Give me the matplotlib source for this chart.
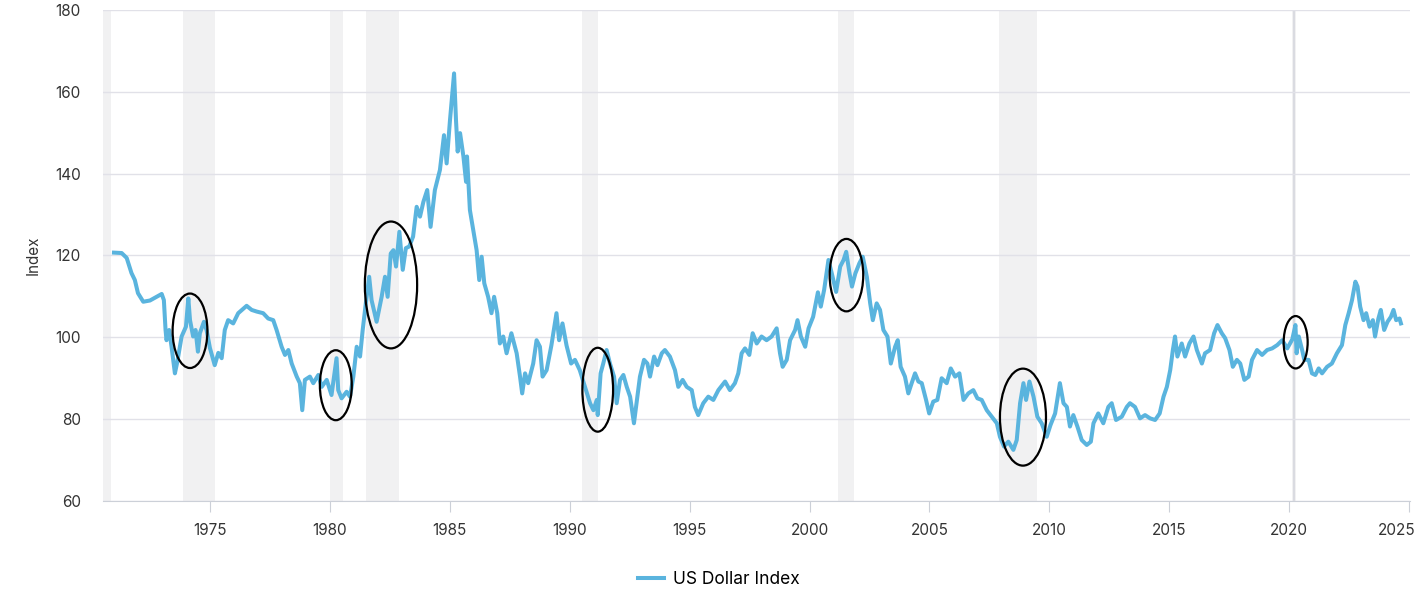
import matplotlib.pyplot as plt
from matplotlib.patches import Ellipse
from matplotlib.transforms import ScaledTranslation

plt.rcParams['font.family'] = ['Inter', 'DejaVu Sans']

# US Dollar Index (decimal year, index value)
years = [
    1971.00, 1971.32, 1971.53, 1971.73, 1971.87, 1972.00, 1972.22, 1972.50, 1972.78, 1972.99,
    1973.08, 1973.15, 1973.19, 1973.30, 1973.40, 1973.54, 1973.64, 1973.82, 1974.00, 1974.10,
    1974.17, 1974.30, 1974.40, 1974.50, 1974.58, 1974.75, 1974.86, 1975.00, 1975.20, 1975.35,
    1975.49, 1975.62, 1975.76, 1975.97, 1976.18, 1976.53, 1976.74, 1976.95, 1977.22, 1977.43,
    1977.64, 1977.78, 1977.99, 1978.13, 1978.27, 1978.41, 1978.62, 1978.75, 1978.85, 1978.96,
    1979.17, 1979.31, 1979.52, 1979.66, 1979.87, 1980.07, 1980.28, 1980.35, 1980.49, 1980.70,
    1980.84, 1980.98, 1981.12, 1981.26, 1981.37, 1981.50, 1981.64, 1981.74, 1981.95, 1982.16,
    1982.30, 1982.41, 1982.54, 1982.65, 1982.76, 1982.90, 1983.04, 1983.17, 1983.31, 1983.47,
    1983.62, 1983.76, 1983.90, 1984.06, 1984.20, 1984.38, 1984.59, 1984.76, 1984.87, 1985.01,
    1985.18, 1985.26, 1985.33, 1985.43, 1985.57, 1985.68, 1985.72, 1985.84, 1985.98, 1986.12,
    1986.23, 1986.33, 1986.44, 1986.60, 1986.74, 1986.85, 1986.98, 1987.09, 1987.23, 1987.37,
    1987.57, 1987.79, 1987.93, 1988.02, 1988.14, 1988.27, 1988.48, 1988.62, 1988.76, 1988.87,
    1989.04, 1989.24, 1989.45, 1989.56, 1989.70, 1989.87, 1990.06, 1990.22, 1990.42, 1990.64,
    1990.85, 1990.99, 1991.13, 1991.17, 1991.29, 1991.40, 1991.54, 1991.68, 1991.85, 1991.96,
    1992.10, 1992.24, 1992.38, 1992.52, 1992.68, 1992.82, 1992.93, 1993.10, 1993.24, 1993.35,
    1993.52, 1993.66, 1993.84, 1993.97, 1994.18, 1994.39, 1994.53, 1994.71, 1994.88, 1995.09,
    1995.22, 1995.36, 1995.57, 1995.78, 1995.99, 1996.20, 1996.48, 1996.68, 1996.89, 1997.03,
    1997.17, 1997.31, 1997.49, 1997.63, 1997.80, 1998.00, 1998.21, 1998.42, 1998.63, 1998.77,
    1998.88, 1999.05, 1999.19, 1999.40, 1999.50, 1999.64, 1999.82, 1999.96, 2000.15, 2000.35,
    2000.47, 2000.61, 2000.79, 2000.93, 2001.11, 2001.28, 2001.42, 2001.53, 2001.67, 2001.77,
    2001.91, 2002.08, 2002.22, 2002.39, 2002.53, 2002.64, 2002.80, 2002.94, 2003.08, 2003.25,
    2003.39, 2003.57, 2003.68, 2003.80, 2003.98, 2004.12, 2004.26, 2004.40, 2004.54, 2004.68,
    2004.86, 2004.99, 2005.16, 2005.33, 2005.51, 2005.72, 2005.89, 2006.07, 2006.25, 2006.42,
    2006.62, 2006.83, 2007.00, 2007.18, 2007.39, 2007.60, 2007.81, 2007.94, 2008.11, 2008.29,
    2008.50, 2008.64, 2008.78, 2008.92, 2009.03, 2009.17, 2009.34, 2009.50, 2009.68, 2009.89,
    2010.05, 2010.24, 2010.44, 2010.59, 2010.73, 2010.86, 2011.00, 2011.17, 2011.35, 2011.56,
    2011.73, 2011.84, 2012.04, 2012.25, 2012.46, 2012.60, 2012.78, 2013.02, 2013.23, 2013.36,
    2013.57, 2013.78, 2013.99, 2014.20, 2014.41, 2014.60, 2014.76, 2014.90, 2015.04, 2015.15,
    2015.24, 2015.34, 2015.52, 2015.66, 2015.84, 2016.01, 2016.15, 2016.36, 2016.49, 2016.70,
    2016.87, 2017.01, 2017.19, 2017.33, 2017.51, 2017.65, 2017.82, 2017.96, 2018.13, 2018.31,
    2018.45, 2018.66, 2018.87, 2019.08, 2019.29, 2019.50, 2019.71, 2019.92, 2020.13, 2020.26,
    2020.31, 2020.40, 2020.54, 2020.63, 2020.81, 2020.95, 2021.09, 2021.23, 2021.37, 2021.58,
    2021.78, 2021.99, 2022.20, 2022.34, 2022.48, 2022.62, 2022.76, 2022.85, 2022.96, 2023.10,
    2023.21, 2023.35, 2023.49, 2023.58, 2023.72, 2023.82, 2023.96, 2024.10, 2024.24, 2024.35,
    2024.46, 2024.60, 2024.66,
]
dxy = [
    120.7, 120.6, 119.4, 115.7, 114.0, 110.8, 108.7, 109.0, 109.9, 110.6,
    109.1, 101.8, 99.3, 101.8, 97.7, 91.2, 94.0, 100.2, 102.6, 109.5,
    104.2, 100.2, 101.8, 96.5, 101.0, 103.8, 101.8, 97.4, 93.2, 96.2,
    94.9, 101.8, 104.2, 103.4, 105.9, 107.7, 106.7, 106.3, 105.9, 104.6,
    104.2, 101.8, 97.7, 95.7, 96.9, 93.6, 90.4, 88.8, 82.2, 89.6,
    90.4, 88.8, 90.8, 87.9, 89.6, 85.9, 94.9, 87.1, 85.1, 86.7,
    85.5, 90.4, 97.7, 95.3, 101.8, 108.3, 114.8, 109.1, 103.8, 109.9,
    114.8, 109.9, 120.5, 121.3, 117.3, 125.8, 116.5, 121.8, 122.2, 124.6,
    131.9, 129.5, 133.1, 136.0, 127.0, 136.0, 140.9, 149.4, 142.5, 153.1,
    164.5, 153.1, 145.4, 149.9, 144.2, 138.0, 144.2, 131.1, 126.2, 121.3,
    114.0, 119.7, 113.2, 109.9, 105.9, 109.9, 105.9, 98.5, 100.2, 96.1,
    101.0, 96.1, 90.4, 86.3, 91.2, 88.8, 93.6, 99.3, 97.7, 90.4,
    92.0, 98.1, 105.9, 99.3, 103.4, 98.0, 93.6, 94.5, 92.0, 87.9,
    83.9, 82.2, 84.7, 81.0, 91.2, 93.6, 96.9, 93.6, 90.4, 83.9,
    89.6, 90.8, 87.9, 85.5, 79.0, 85.5, 90.4, 94.5, 93.6, 90.4,
    95.3, 93.2, 96.1, 96.9, 95.3, 92.0, 87.9, 89.6, 87.9, 87.1,
    83.0, 81.0, 83.9, 85.5, 84.7, 87.1, 89.2, 87.1, 88.8, 91.2,
    96.1, 97.3, 95.7, 101.0, 98.5, 100.2, 99.3, 100.2, 102.2, 96.1,
    92.8, 94.5, 99.3, 101.8, 104.2, 100.2, 97.7, 102.2, 105.0, 111.0,
    107.5, 111.6, 118.9, 115.6, 111.1, 117.3, 118.9, 120.9, 115.6, 112.4,
    115.6, 118.1, 119.7, 114.8, 108.3, 104.2, 108.3, 106.7, 101.8, 100.2,
    93.6, 97.7, 99.3, 92.8, 90.4, 86.3, 88.8, 91.2, 89.2, 88.8,
    84.7, 81.4, 84.3, 84.7, 90.0, 88.8, 92.4, 90.4, 91.2, 84.7,
    86.3, 87.1, 85.1, 84.7, 82.2, 80.6, 79.0, 75.7, 73.3, 74.5,
    72.5, 74.9, 83.9, 88.8, 84.7, 89.2, 85.5, 80.6, 79.0, 75.7,
    78.6, 81.4, 88.8, 83.9, 83.0, 78.2, 81.0, 78.2, 74.9, 73.7,
    74.5, 79.0, 81.4, 79.0, 83.0, 83.9, 79.8, 80.6, 83.0, 83.9,
    83.0, 80.2, 81.0, 80.2, 79.8, 81.4, 85.5, 87.9, 92.0, 96.9,
    100.2, 95.3, 98.5, 95.3, 98.5, 100.2, 96.9, 93.6, 96.1, 96.9,
    101.0, 103.0, 101.0, 99.8, 96.9, 92.8, 94.5, 93.6, 89.6, 90.4,
    94.5, 96.9, 95.7, 96.9, 97.3, 98.1, 99.3, 97.3, 99.5, 103.0,
    96.1, 100.2, 96.9, 94.5, 94.5, 91.2, 90.8, 92.4, 91.2, 92.8,
    93.6, 96.1, 98.1, 103.0, 105.9, 109.1, 113.6, 112.4, 107.5, 104.2,
    105.9, 102.6, 104.2, 100.2, 104.6, 106.7, 101.8, 103.8, 105.0, 106.7,
    104.2, 104.6, 103.4,
]

# NBER recessions (start, end)
rec_start = [1969.92, 1973.87, 1980.0, 1981.5, 1990.5, 2001.2, 2007.92, 2020.1]
rec_end = [1970.87, 1975.2, 1980.55, 1982.87, 1991.2, 2001.87, 2009.5, 2020.3]

# circled episodes: centre year, centre value, width (years), height (index)
circ_x = [1974.17, 1980.25, 1982.55, 1991.17, 2001.54, 2008.9, 2020.27]
circ_y = [101.6, 88.3, 112.8, 87.2, 115.2, 80.5, 98.8]
circ_w = [1.45, 1.33, 2.18, 1.28, 1.40, 1.92, 1.0]
circ_h = [18.2, 17.1, 31.0, 20.5, 17.7, 23.7, 12.8]

fig = plt.figure(figsize=(14.2, 6.04), dpi=100)
ax = fig.add_axes([0.0725, 0.1705, 0.9205, 0.813])

for s, e in zip(rec_start, rec_end):
    ax.axvspan(s, e, color='#f1f1f2', lw=0, zorder=0)
ax.axvline(2020.2, color='#d6d7de', lw=1.2, zorder=0.5)

ax.plot(years, dxy, color='#5ab4de', lw=2.9, label='US Dollar Index', zorder=2)

for cx, cy, w, h in zip(circ_x, circ_y, circ_w, circ_h):
    ax.add_patch(Ellipse((cx, cy), w, h, fill=False, edgecolor='black', lw=1.6, zorder=3))

ax.set_xlim(1970.54, 2025.04)
ax.set_ylim(60, 180)
ax.set_yticks(range(60, 181, 20))
ax.set_xticks(range(1975, 2026, 5))
ax.grid(axis='y', color='#e1e1e8', lw=1)
ax.set_axisbelow(True)

for side in ['left', 'right', 'top']:
    ax.spines[side].set_visible(False)
ax.spines['bottom'].set_color('#ccd0d8')
ax.tick_params(axis='y', length=0, pad=16, labelsize=11, labelcolor='#333333')
ax.tick_params(axis='x', length=8, color='#ccd0d8', pad=8, labelsize=11, labelcolor='#333333')
ax.set_ylabel('Index', fontsize=11, color='#333333', labelpad=10)

# last year label is pulled inside the figure, as in the original
last = ax.get_xticklabels()[-1]
last.set_transform(last.get_transform() + ScaledTranslation(-12 / 100, 0, fig.dpi_scale_trans))

fig.legend(loc='center', bbox_to_anchor=(0.506, 0.041), frameon=False, fontsize=12.5,
           handlelength=1.5, handletextpad=0.5)

fig.savefig('out.png', dpi=100)
